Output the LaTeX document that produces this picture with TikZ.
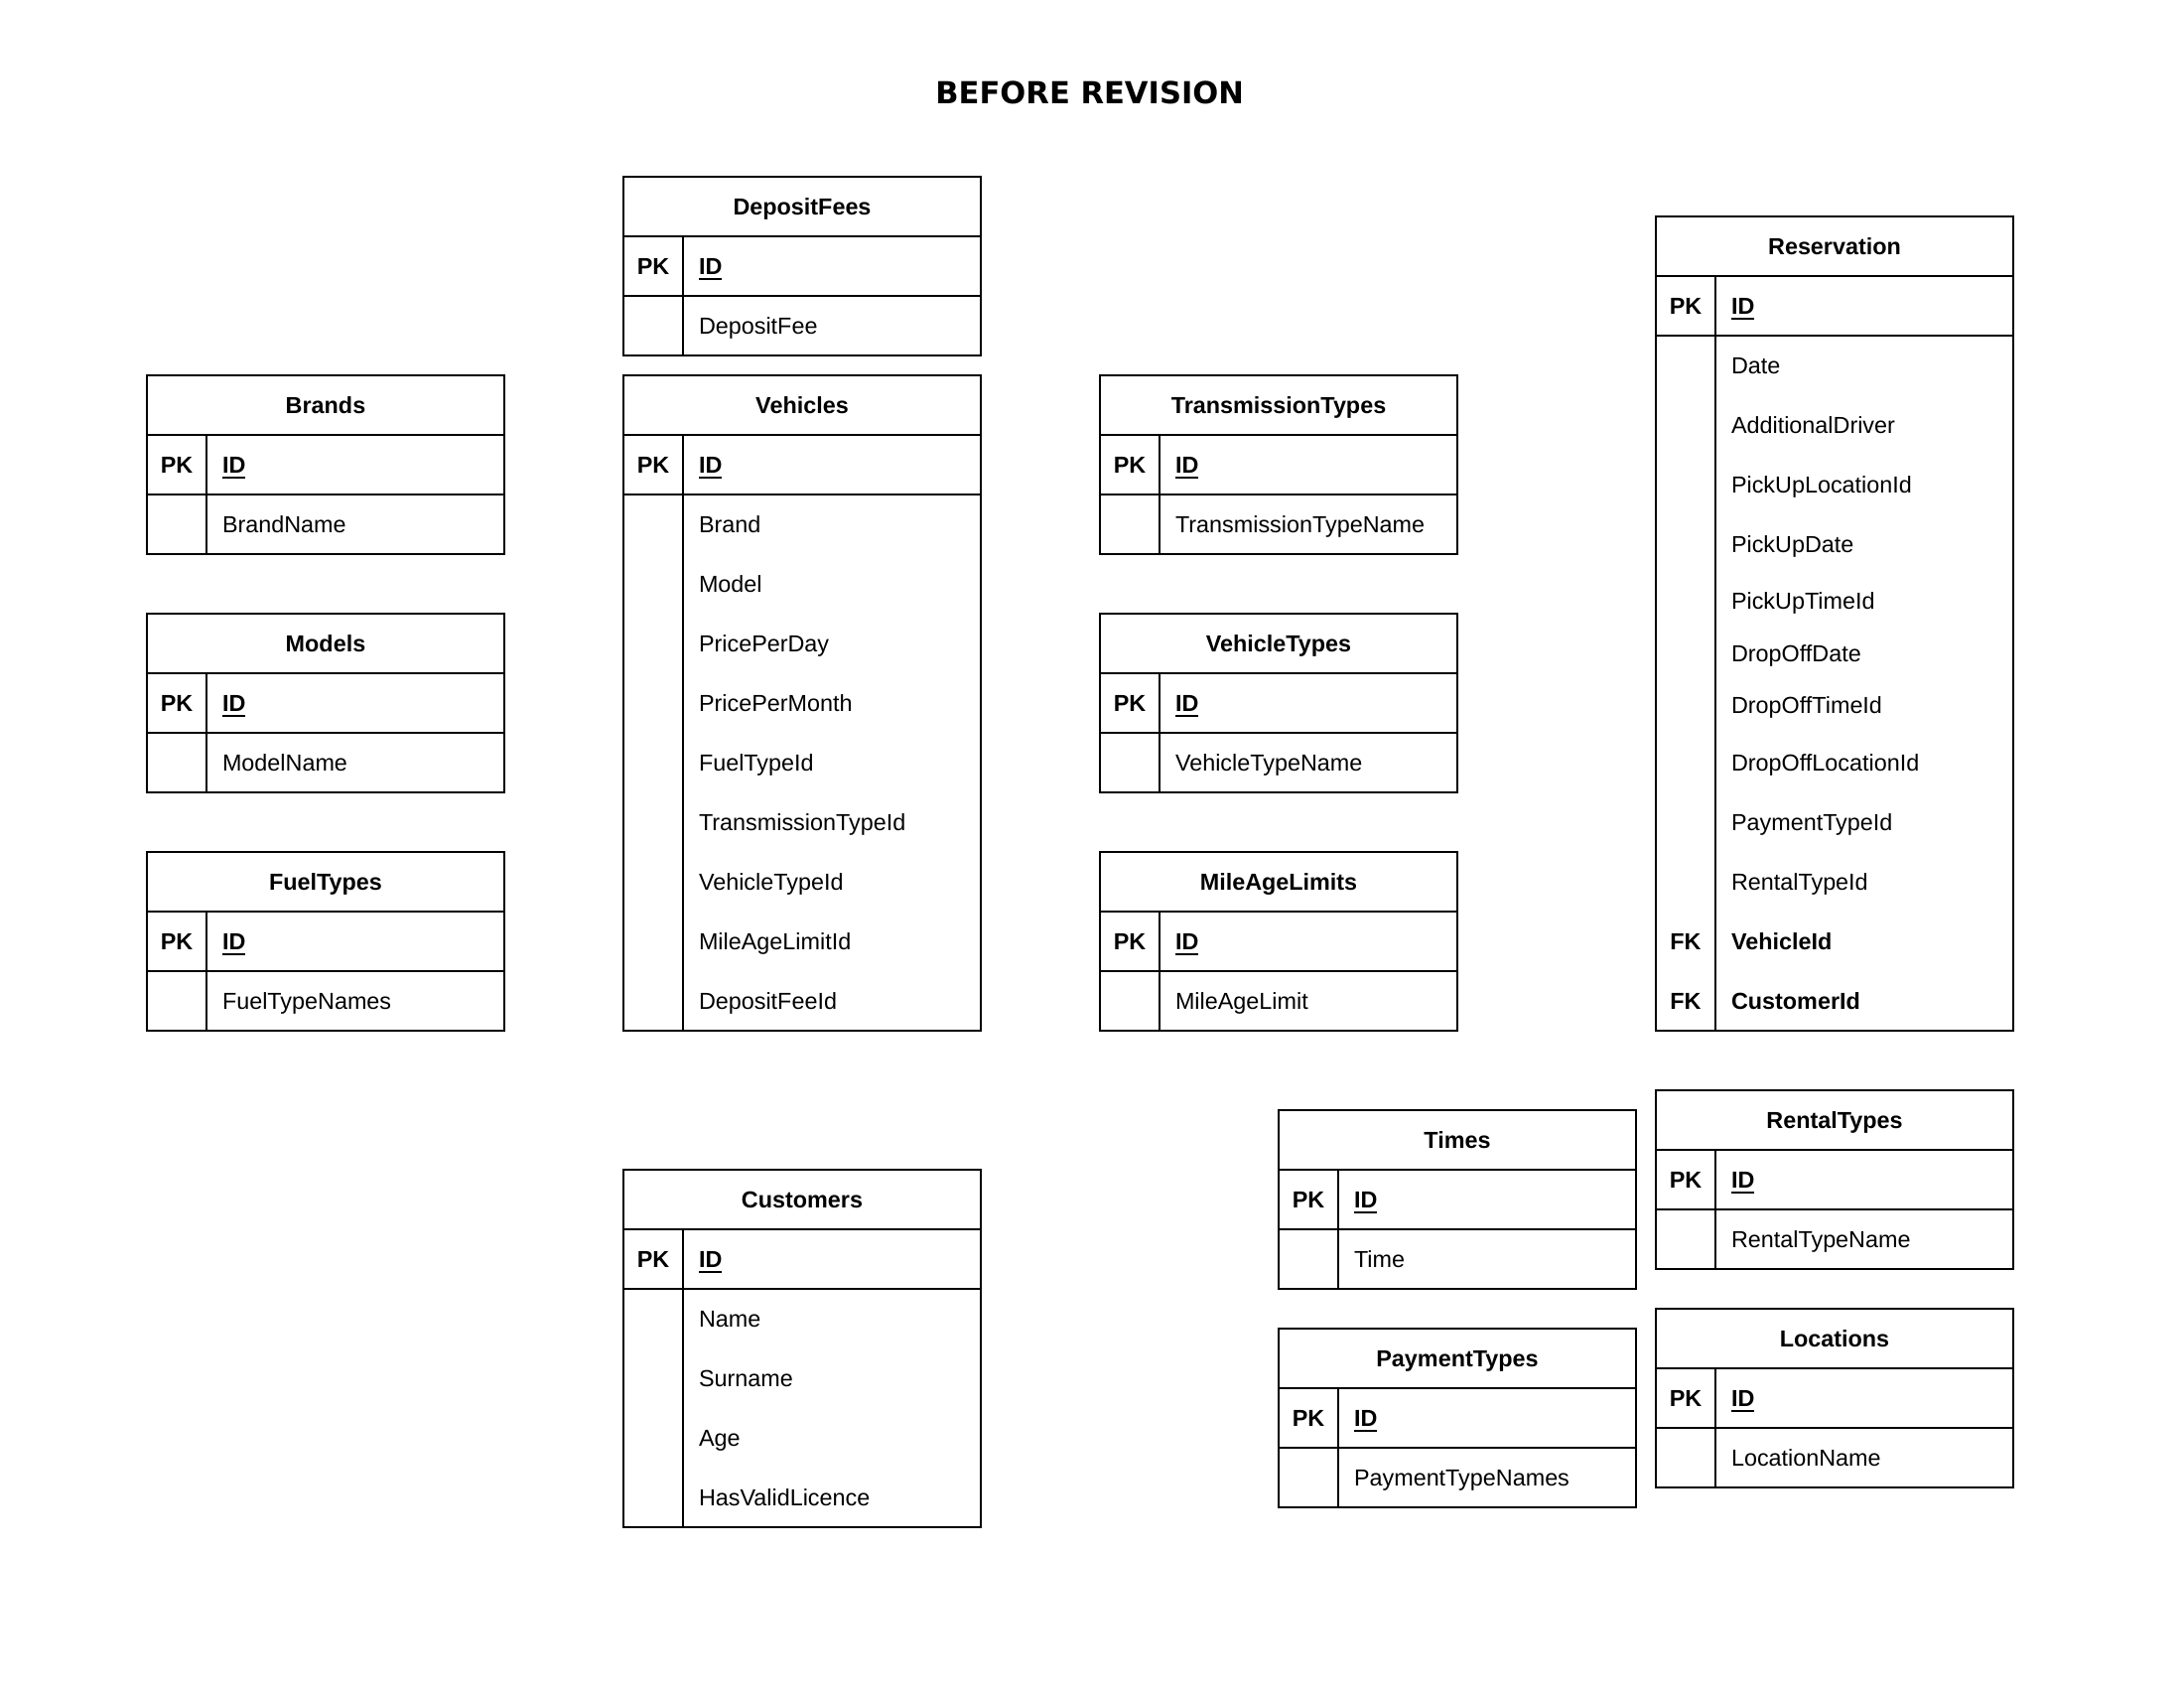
\documentclass[tikz,border=0pt]{standalone}
\usepackage{fontspec}
\setmainfont{Liberation Sans}
\newfontfamily\headfont{DejaVu Sans}
\usetikzlibrary{positioning}
\newcommand{\erfont}{\fontsize{6.65}{8}\selectfont}

\begin{document}
\begin{tikzpicture}[
    hdr/.style={rectangle, draw=black, line width=0.55pt, minimum width=3.606cm, minimum height=0.6cm, inner sep=0pt, outer sep=0pt, text height=4.76pt, text depth=0pt, font=\erfont\bfseries},
    keycell/.style={rectangle, draw=black, line width=0.55pt, minimum width=0.606cm, minimum height=0.6cm, inner sep=0pt, outer sep=0pt, text height=4.76pt, text depth=0pt, font=\erfont\bfseries},
    fldcell/.style={rectangle, draw=black, line width=0.55pt, minimum height=0.6cm, text width=2.686cm, inner xsep=0.157cm, inner ysep=0pt, outer sep=0pt, align=left, text height=4.76pt, text depth=0pt, font=\erfont},
    fld/.style={fldcell, draw=none},
    keytxt/.style={keycell, draw=none}
]
\useasboundingbox (0,0) rectangle (22,-17.06);

% Title
\node (title) at (10.977,-0.933) [font=\headfont\bfseries\fontsize{8.7}{10}\selectfont] {BEFORE REVISION};

% Left column
\node (brands) [hdr, anchor=north west] at (1.477,-3.777) {Brands};
\node (brpk) [keycell, below right=0pt of brands.south west] {PK};
\node (brid) [fldcell, right=0pt of brpk] {\textbf{\underline{ID}}};
\node (brkey) [keycell, below=0pt of brpk] {};
\node (brname) [fldcell, right=0pt of brkey] {BrandName};

\node (models) [hdr, anchor=north west] at (1.477,-6.177) {Models};
\node (mopk) [keycell, below right=0pt of models.south west] {PK};
\node (moid) [fldcell, right=0pt of mopk] {\textbf{\underline{ID}}};
\node (mokey) [keycell, below=0pt of mopk] {};
\node (moname) [fldcell, right=0pt of mokey] {ModelName};

\node (fueltypes) [hdr, anchor=north west] at (1.477,-8.577) {FuelTypes};
\node (fupk) [keycell, below right=0pt of fueltypes.south west] {PK};
\node (fuid) [fldcell, right=0pt of fupk] {\textbf{\underline{ID}}};
\node (fukey) [keycell, below=0pt of fupk] {};
\node (funame) [fldcell, right=0pt of fukey] {FuelTypeNames};

% Middle column
\node (depositfees) [hdr, anchor=north west] at (6.277,-1.777) {DepositFees};
\node (depk) [keycell, below right=0pt of depositfees.south west] {PK};
\node (deid) [fldcell, right=0pt of depk] {\textbf{\underline{ID}}};
\node (dekey) [keycell, below=0pt of depk] {};
\node (defee) [fldcell, right=0pt of dekey] {DepositFee};

\node (vehicles) [hdr, anchor=north west] at (6.277,-3.777) {Vehicles};
\node (vepk) [keycell, below right=0pt of vehicles.south west] {PK};
\node (veid) [fldcell, right=0pt of vepk] {\textbf{\underline{ID}}};
\node (vekeys) [keycell, minimum height=5.4cm, below=0pt of vepk] {};
\node (vecols) [fldcell, minimum height=5.4cm, right=0pt of vekeys] {};
\node (vbrand) [fld, below right=0pt of vecols.north west] {Brand};
\node (vmodel) [fld, below=0pt of vbrand] {Model};
\node (vppd) [fld, below=0pt of vmodel] {PricePerDay};
\node (vppm) [fld, below=0pt of vppd] {PricePerMonth};
\node (vfuel) [fld, below=0pt of vppm] {FuelTypeId};
\node (vtrans) [fld, below=0pt of vfuel] {TransmissionTypeId};
\node (vvtype) [fld, below=0pt of vtrans] {VehicleTypeId};
\node (vmile) [fld, below=0pt of vvtype] {MileAgeLimitId};
\node (vdeposit) [fld, below=0pt of vmile] {DepositFeeId};

\node (customers) [hdr, anchor=north west] at (6.277,-11.777) {Customers};
\node (cupk) [keycell, below right=0pt of customers.south west] {PK};
\node (cuid) [fldcell, right=0pt of cupk] {\textbf{\underline{ID}}};
\node (cukeys) [keycell, minimum height=2.4cm, below=0pt of cupk] {};
\node (cucols) [fldcell, minimum height=2.4cm, right=0pt of cukeys] {};
\node (cname) [fld, below right=0pt of cucols.north west] {Name};
\node (csurname) [fld, below=0pt of cname] {Surname};
\node (cage) [fld, below=0pt of csurname] {Age};
\node (clicence) [fld, below=0pt of cage] {HasValidLicence};

% Right-middle column
\node (transtypes) [hdr, anchor=north west] at (11.077,-3.777) {TransmissionTypes};
\node (trpk) [keycell, below right=0pt of transtypes.south west] {PK};
\node (trid) [fldcell, right=0pt of trpk] {\textbf{\underline{ID}}};
\node (trkey) [keycell, below=0pt of trpk] {};
\node (trname) [fldcell, right=0pt of trkey] {TransmissionTypeName};

\node (vehtypes) [hdr, anchor=north west] at (11.077,-6.177) {VehicleTypes};
\node (vtpk) [keycell, below right=0pt of vehtypes.south west] {PK};
\node (vtid) [fldcell, right=0pt of vtpk] {\textbf{\underline{ID}}};
\node (vtkey) [keycell, below=0pt of vtpk] {};
\node (vtname) [fldcell, right=0pt of vtkey] {VehicleTypeName};

\node (mileage) [hdr, anchor=north west] at (11.077,-8.577) {MileAgeLimits};
\node (mipk) [keycell, below right=0pt of mileage.south west] {PK};
\node (miid) [fldcell, right=0pt of mipk] {\textbf{\underline{ID}}};
\node (mikey) [keycell, below=0pt of mipk] {};
\node (milimit) [fldcell, right=0pt of mikey] {MileAgeLimit};

\node (times) [hdr, anchor=north west] at (12.877,-11.177) {Times};
\node (tipk) [keycell, below right=0pt of times.south west] {PK};
\node (tiid) [fldcell, right=0pt of tipk] {\textbf{\underline{ID}}};
\node (tikey) [keycell, below=0pt of tipk] {};
\node (titime) [fldcell, right=0pt of tikey] {Time};

\node (paytypes) [hdr, anchor=north west] at (12.877,-13.377) {PaymentTypes};
\node (papk) [keycell, below right=0pt of paytypes.south west] {PK};
\node (paid) [fldcell, right=0pt of papk] {\textbf{\underline{ID}}};
\node (pakey) [keycell, below=0pt of papk] {};
\node (paname) [fldcell, right=0pt of pakey] {PaymentTypeNames};

% Right column
\node (reservation) [hdr, anchor=north west] at (16.677,-2.177) {Reservation};
\node (repk) [keycell, below right=0pt of reservation.south west] {PK};
\node (reid) [fldcell, right=0pt of repk] {\textbf{\underline{ID}}};
\node (rekeys) [keycell, minimum height=7cm, below=0pt of repk] {};
\node (recols) [fldcell, minimum height=7cm, right=0pt of rekeys] {};
\node (rdate) [fld, below right=0pt of recols.north west] {Date};
\node (rdriver) [fld, below=0pt of rdate] {AdditionalDriver};
\node (rpuloc) [fld, below=0pt of rdriver] {PickUpLocationId};
\node (rpudate) [fld, below=0pt of rpuloc] {PickUpDate};
\node (rputime) [fld, minimum height=0.55cm, below=0pt of rpudate] {PickUpTimeId};
\node (rdodate) [fld, minimum height=0.5cm, below=0pt of rputime] {DropOffDate};
\node (rdotime) [fld, minimum height=0.55cm, below=0pt of rdodate] {DropOffTimeId};
\node (rdoloc) [fld, below=0pt of rdotime] {DropOffLocationId};
\node (rpay) [fld, below=0pt of rdoloc] {PaymentTypeId};
\node (rrental) [fld, below=0pt of rpay] {RentalTypeId};
\node (rvehicle) [fld, below=0pt of rrental] {\textbf{VehicleId}};
\node (rcustomer) [fld, below=0pt of rvehicle] {\textbf{CustomerId}};
\node (rfkveh) [keytxt, left=0pt of rvehicle] {FK};
\node (rfkcust) [keytxt, left=0pt of rcustomer] {FK};

\node (rentaltypes) [hdr, anchor=north west] at (16.677,-10.977) {RentalTypes};
\node (rtpk) [keycell, below right=0pt of rentaltypes.south west] {PK};
\node (rtid) [fldcell, right=0pt of rtpk] {\textbf{\underline{ID}}};
\node (rtkey) [keycell, below=0pt of rtpk] {};
\node (rtname) [fldcell, right=0pt of rtkey] {RentalTypeName};

\node (locations) [hdr, anchor=north west] at (16.677,-13.177) {Locations};
\node (lopk) [keycell, below right=0pt of locations.south west] {PK};
\node (loid) [fldcell, right=0pt of lopk] {\textbf{\underline{ID}}};
\node (lokey) [keycell, below=0pt of lopk] {};
\node (loname) [fldcell, right=0pt of lokey] {LocationName};

\end{tikzpicture}
\end{document}
